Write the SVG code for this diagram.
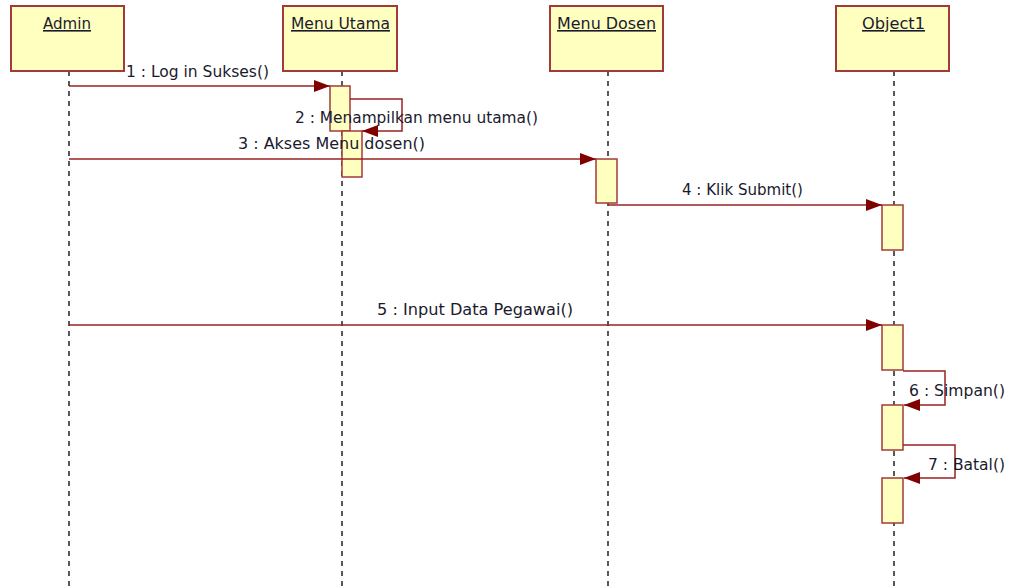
<svg xmlns="http://www.w3.org/2000/svg" width="1012" height="586" viewBox="0 0 1012 586">
<style>
.box{fill:#ffffc0;stroke:#a33a3a;stroke-width:2}
.act{fill:#ffffc0;stroke:#a33a3a;stroke-width:1.5}
.life{stroke:#222;stroke-width:1.5;stroke-dasharray:5 5;fill:none}
.msg{stroke:#9a2222;stroke-width:1.5;fill:none}
.t{font-family:"DejaVu Sans",sans-serif;font-size:15px;fill:#1a1a2e}
.h{font-family:"DejaVu Sans",sans-serif;font-size:16px;fill:#1a1a2e;text-decoration:underline}
</style>
<defs>
<marker id="ah" markerWidth="16" markerHeight="12" refX="16" refY="6" orient="auto" markerUnits="userSpaceOnUse">
<path d="M0,0 L16,6 L0,12 Z" fill="#800000"/>
</marker>
</defs>
<rect width="1012" height="586" fill="#fff"/>
<g id="lifelines">
<line class="life" x1="69" y1="71" x2="69" y2="586"/>
<line class="life" x1="342" y1="71" x2="342" y2="586"/>
<line class="life" x1="608" y1="71" x2="608" y2="586"/>
<line class="life" x1="894" y1="71" x2="894" y2="586"/>
</g>
<g id="admin">
<rect class="box" x="11" y="6" width="113" height="65"/>
<text class="h" x="43" y="29" textLength="48" lengthAdjust="spacingAndGlyphs">Admin</text>
</g>
<g id="menu-utama">
<rect class="box" x="283" y="6" width="114" height="65"/>
<text class="h" x="291" y="29" textLength="99" lengthAdjust="spacingAndGlyphs">Menu Utama</text>
</g>
<g id="menu-dosen">
<rect class="box" x="550" y="6" width="113" height="65"/>
<text class="h" x="557" y="29" textLength="99" lengthAdjust="spacingAndGlyphs">Menu Dosen</text>
</g>
<g id="object1">
<rect class="box" x="836" y="6" width="113" height="65"/>
<text class="h" x="862" y="29" textLength="63" lengthAdjust="spacingAndGlyphs">Object1</text>
</g>
<g id="activations">
<rect class="act" x="330" y="86" width="20" height="45"/>
<rect class="act" x="342" y="131" width="20" height="46"/>
<rect class="act" x="596" y="159" width="21" height="44"/>
<rect class="act" x="882" y="205" width="21" height="45"/>
<rect class="act" x="882" y="325" width="21" height="45"/>
<rect class="act" x="882" y="405" width="21" height="45"/>
<rect class="act" x="882" y="478" width="21" height="45"/>
</g>
<g id="connectors">
<line class="msg" x1="69" y1="86" x2="330" y2="86" marker-end="url(#ah)"/>
<polyline class="msg" points="350,99 402,99 402,131 362,131" marker-end="url(#ah)"/>
<line class="msg" x1="69" y1="159" x2="596" y2="159" marker-end="url(#ah)"/>
<line class="msg" x1="608" y1="205" x2="882" y2="205" marker-end="url(#ah)"/>
<line class="msg" x1="69" y1="325" x2="882" y2="325" marker-end="url(#ah)"/>
<polyline class="msg" points="903,371 945,371 945,405 904,405" marker-end="url(#ah)"/>
<polyline class="msg" points="903,445 955,445 955,478 904,478" marker-end="url(#ah)"/>
</g>
<g id="labels">
<text class="t" x="126" y="77" textLength="143" lengthAdjust="spacingAndGlyphs">1 : Log in Sukses()</text>
<text class="t" x="295" y="123" textLength="243" lengthAdjust="spacingAndGlyphs">2 : Menampilkan menu utama()</text>
<text class="t" x="238" y="149" textLength="187" lengthAdjust="spacingAndGlyphs">3 : Akses Menu dosen()</text>
<text class="t" x="682" y="195" textLength="121" lengthAdjust="spacingAndGlyphs">4 : Klik Submit()</text>
<text class="t" x="377" y="315" textLength="196" lengthAdjust="spacingAndGlyphs">5 : Input Data Pegawai()</text>
<text class="t" x="909" y="396" textLength="96" lengthAdjust="spacingAndGlyphs">6 : Simpan()</text>
<text class="t" x="928" y="470" textLength="77" lengthAdjust="spacingAndGlyphs">7 : Batal()</text>
</g>
</svg>
